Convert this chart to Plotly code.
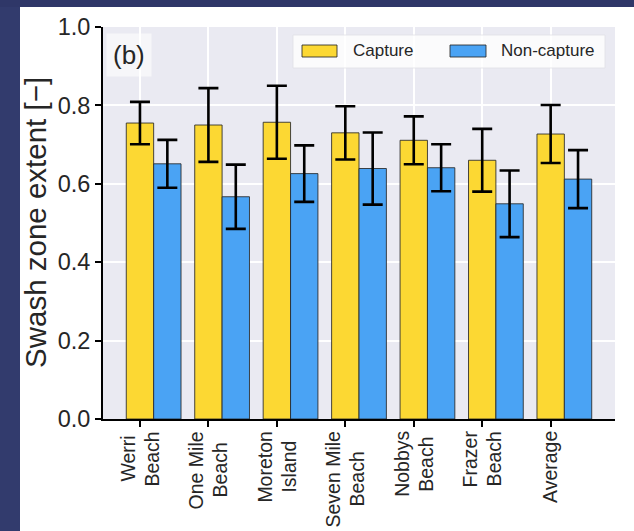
import plotly.graph_objects as go

# Site names; two-word names are drawn as two rotated lines under each group
sites = [["Werri", "Beach"], ["One Mile", "Beach"], ["Moreton", "Island"], ["Seven Mile", "Beach"],
         ["Nobbys", "Beach"], ["Frazer", "Beach"], ["Average"]]

# Mean swash zone extent and spread for each condition
capture = [0.755, 0.750, 0.757, 0.730, 0.711, 0.660, 0.727]
capture_err = [0.054, 0.094, 0.093, 0.068, 0.061, 0.080, 0.074]
noncapture = [0.651, 0.567, 0.626, 0.639, 0.641, 0.549, 0.612]
noncapture_err = [0.061, 0.082, 0.072, 0.092, 0.060, 0.085, 0.074]

series_names = ["Capture", "Non-capture"]
y_ticks = [0.0, 0.2, 0.4, 0.6, 0.8, 1.0]

W, H = 634, 531
L, R, T, B = 103, 19, 27, 112
PW, PH = W - L - R, H - T - B

YELLOW = "#fcd833"
BLUE = "#4aa3f4"
EDGE = "rgba(40,40,40,0.85)"
FONT = "Liberation Sans, Arial, sans-serif"
TXT = "#262626"
BAR_W = 0.4
XLAB_SIZE = 19.5

pos = list(range(len(sites)))

# Arial advance widths (per em) used to centre the rotated label lines on each other
_ADV = {"S": .667, "e": .556, "v": .5, "n": .556, " ": .278, "M": .833, "i": .222, "l": .222,
        "W": .944, "r": .333, "B": .667, "a": .556, "c": .5, "h": .556, "O": .778, "o": .556,
        "t": .278, "I": .278, "s": .5, "d": .556, "N": .722, "b": .556, "y": .5, "F": .611,
        "z": .5, "A": .667, "g": .556}


def text_len(s, size):
    return sum(_ADV.get(ch, .556) for ch in s) * size


def px_x(px):
    return (px - L) / PW


def px_y(py):
    return (T + PH - py) / PH


err_style = dict(type="data", color="black", thickness=2.6, width=10)

fig = go.Figure()
fig.add_trace(go.Bar(
    x=pos, y=capture, width=BAR_W, name=series_names[0],
    marker=dict(color=YELLOW, line=dict(color=EDGE, width=1)),
    error_y=dict(array=capture_err, **err_style),
))
fig.add_trace(go.Bar(
    x=[p + BAR_W for p in pos], y=noncapture, width=BAR_W, name=series_names[1],
    marker=dict(color=BLUE, line=dict(color=EDGE, width=1)),
    error_y=dict(array=noncapture_err, **err_style),
))

shapes = [
    # slide frame strips
    dict(type="rect", xref="paper", yref="paper", x0=px_x(0), x1=px_x(20), y0=px_y(H), y1=px_y(0),
         fillcolor="#323b6d", line=dict(width=0), layer="below"),
    dict(type="rect", xref="paper", yref="paper", x0=px_x(0), x1=px_x(W), y0=px_y(7), y1=px_y(0),
         fillcolor="#2f3768", line=dict(width=0), layer="below"),
    # legend frame
    dict(type="rect", xref="paper", yref="paper", x0=px_x(293), x1=px_x(605), y0=px_y(68), y1=px_y(35),
         fillcolor="rgba(255,255,255,0.78)", line=dict(color="rgba(225,225,230,0.8)", width=1), layer="above"),
    # legend swatches
    dict(type="rect", xref="paper", yref="paper", x0=px_x(302), x1=px_x(337), y0=px_y(57), y1=px_y(45),
         fillcolor=YELLOW, line=dict(color=EDGE, width=1), layer="above"),
    dict(type="rect", xref="paper", yref="paper", x0=px_x(450), x1=px_x(486), y0=px_y(57), y1=px_y(45),
         fillcolor=BLUE, line=dict(color=EDGE, width=1), layer="above"),
]

annotations = [
    dict(text=series_names[0], xref="paper", yref="paper", x=px_x(351), y=px_y(51),
         xanchor="left", yanchor="middle", showarrow=False, font=dict(family=FONT, size=17, color=TXT)),
    dict(text=series_names[1], xref="paper", yref="paper", x=px_x(499), y=px_y(51),
         xanchor="left", yanchor="middle", showarrow=False, font=dict(family=FONT, size=17, color=TXT)),
    dict(text="(b)", xref="paper", yref="paper", x=px_x(129), y=px_y(55),
         xanchor="center", yanchor="middle", showarrow=False, bgcolor="rgba(255,255,255,0.55)",
         borderpad=6, font=dict(family=FONT, size=26, color=TXT)),
    dict(text="Swash zone extent [\u2212]", xref="paper", yref="paper", x=px_x(35), y=0.5,
         xanchor="center", yanchor="middle", textangle=-90, showarrow=False,
         font=dict(family=FONT, size=29.5, color=TXT)),
]
# rotated category labels: lines side by side, centred on each other
LINE_GAP = 24
LABEL_TOP = 431
for p, lines in zip(pos, sites):
    n = len(lines)
    block = max(text_len(s, XLAB_SIZE) for s in lines)
    centre = LABEL_TOP + block / 2
    for k, line in enumerate(lines):
        annotations.append(dict(
            text=line, x=p, xref="x", y=px_y(centre), yref="paper", xanchor="center", yanchor="middle",
            xshift=(k - (n - 1) / 2) * LINE_GAP, textangle=-90, showarrow=False,
            font=dict(family=FONT, size=XLAB_SIZE, color=TXT),
        ))

fig.update_layout(
    width=W, height=H,
    margin=dict(l=L, r=R, t=T, b=B),
    paper_bgcolor="white",
    plot_bgcolor="#eaeaf2",
    barmode="overlay",
    showlegend=False,
    shapes=shapes,
    annotations=annotations,
    xaxis=dict(
        range=[-0.54, 6.94], tickvals=pos, showticklabels=False,
        showgrid=True, gridcolor="white", gridwidth=1.5, zeroline=False,
        showline=True, linecolor="black", linewidth=2,
        ticks="outside", ticklen=6, tickwidth=1.5, tickcolor="black",
    ),
    yaxis=dict(
        range=[0, 1.0], tickvals=y_ticks, tickformat=".1f",
        showgrid=True, gridcolor="white", gridwidth=1.5, zeroline=False,
        showline=True, linecolor="black", linewidth=2,
        ticks="outside", ticklen=6, tickwidth=1.5, tickcolor="black",
        tickfont=dict(family=FONT, size=23.5, color=TXT),
    ),
)

fig.write_html("out.html")
